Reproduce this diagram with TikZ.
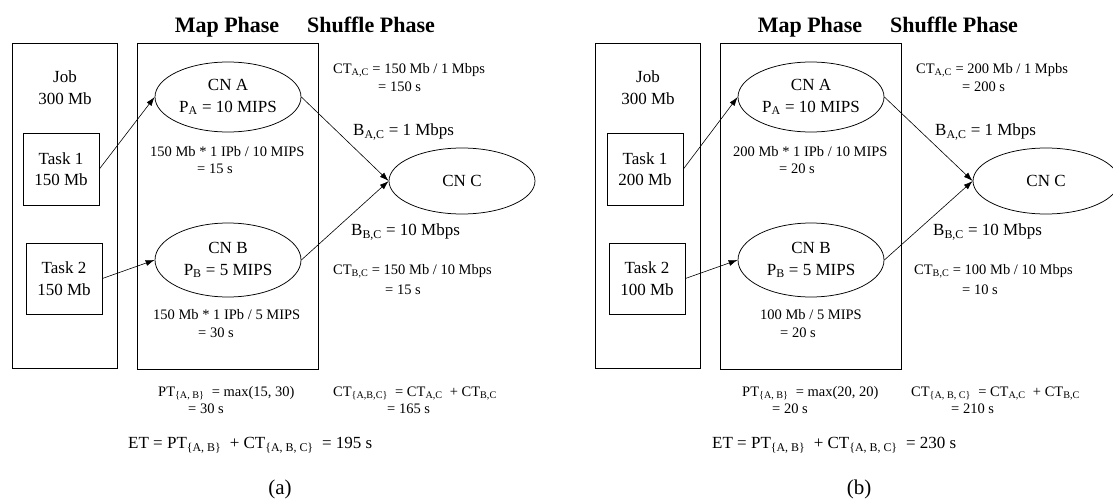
\documentclass[tikz,border=0pt]{standalone}
\usepackage{fontspec}
\setmainfont{Liberation Serif}
\usetikzlibrary{shapes.geometric,arrows.meta}
\newcommand\mainfs{\fontsize{17}{21.5}\selectfont}
\newcommand\smallfs{\fontsize{14.5}{17}\selectfont}
\newcommand\headfs{\fontsize{22}{26}\selectfont\bfseries}
\newcommand\capfs{\fontsize{21}{25}\selectfont}
\newcommand\sbs[1]{\textsubscript{#1}}
\begin{document}
\begin{tikzpicture}[x=1pt,y=-1pt,
  frame/.style={draw, line width=0.75pt, inner sep=0pt, anchor=north west},
  task/.style={draw, line width=0.75pt, minimum width=76pt, minimum height=72pt, inner sep=0pt, align=center, font=\mainfs},
  cn/.style={ellipse, draw, line width=0.75pt, minimum width=146pt, minimum height=70pt, inner sep=0pt, align=center, font=\mainfs},
  lbl/.style={anchor=base west, inner sep=0pt, font=\smallfs},
  blbl/.style={anchor=base west, inner sep=0pt, font=\mainfs},
  head/.style={anchor=base, inner sep=0pt, font=\headfs},
  capt/.style={anchor=base, inner sep=0pt, font=\capfs},
  arr/.style={line width=0.6pt, -{Latex[length=9pt,width=6pt]}}]
\useasboundingbox (0,0) rectangle (1113,500);

% ---------------- panel (a) ----------------
\node[frame, minimum width=105pt, minimum height=325pt] (joba) at (12,43) {};
\node[font=\mainfs, align=center, inner sep=0pt] (jobtxta) at (65,87.5) {Job\\300 Mb};
\node[frame, minimum width=181pt, minimum height=326pt] (mapa) at (137,43) {};
\node[task] (t1a) at (61,169) {Task 1\\150 Mb};
\node[task, minimum height=71pt] (t2a) at (64,278.5) {Task 2\\150 Mb};
\node[cn] (Aa) at (228,97) {CN A\\P\sbs{A} = 10 MIPS};
\node[cn, minimum height=74pt] (Ba) at (228,260) {CN B\\P\sbs{B} = 5 MIPS};
\node[cn, minimum height=66pt] (Ca) at (462,181) {CN C};
\draw[arr] (t1a.east) -- (Aa.west);
\draw[arr] (t2a.east) -- (Ba.west);
\draw[arr] (Aa.east) -- (Ca.west);
\draw[arr] (Ba.east) -- (Ca.west);
\node[head] (mpa) at (227,33) {Map Phase};
\node[head] (spa) at (371,33) {Shuffle Phase};
\node[lbl] (ca1) at (150,156.7) {150 Mb * 1 IPb / 10 MIPS};
\node[lbl] (ca2) at (197,173.7) {= 15 s};
\node[lbl] (cb1) at (153,319.7) {150 Mb * 1 IPb / 5 MIPS};
\node[lbl] (cb2) at (198,337.7) {= 30 s};
\node[lbl] (ctac1a) at (333,73.7) {CT\sbs{A,C} = 150 Mb / 1 Mbps};
\node[lbl] (ctac2a) at (378,91.7) {= 150 s};
\node[blbl] (baca) at (353,135.5) {B\sbs{A,C} = 1 Mbps};
\node[blbl] (bbca) at (351,235.5) {B\sbs{B,C} = 10 Mbps};
\node[lbl] (ctbc1a) at (333,274.7) {CT\sbs{B,C} = 150 Mb / 10 Mbps};
\node[lbl] (ctbc2a) at (385,294.7) {= 15 s};
\node[lbl] (pt1a) at (158,396.7) {PT\sbs{\{A, B\}}\ \ = max(15, 30)};
\node[lbl] (pt2a) at (188,413.7) {= 30 s};
\node[lbl] (ctabc1a) at (333,396.7) {CT\sbs{\{A,B,C\}}\ \ = CT\sbs{A,C}\ \ + CT\sbs{B,C}};
\node[lbl] (ctabc2a) at (387,413.7) {= 165 s};
\node[blbl] (eta) at (128,448.5) {ET = PT\sbs{\{A, B\}}\ \ + CT\sbs{\{A, B, C\}}\ \ = 195 s};
\node[capt] (capa) at (280,494) {(a)};

% ---------------- panel (b) ----------------
\begin{scope}[shift={(583,0)}]
\node[frame, minimum width=105pt, minimum height=325pt] (jobb) at (12,43) {};
\node[font=\mainfs, align=center, inner sep=0pt] (jobtxtb) at (65,87.5) {Job\\300 Mb};
\node[frame, minimum width=181pt, minimum height=326pt] (mapb) at (137,43) {};
\node[task] (t1b) at (62,169) {Task 1\\200 Mb};
\node[task, minimum height=71pt] (t2b) at (64,278.5) {Task 2\\100 Mb};
\node[cn] (Ab) at (228,97) {CN A\\P\sbs{A} = 10 MIPS};
\node[cn, minimum height=74pt] (Bb) at (228,260) {CN B\\P\sbs{B} = 5 MIPS};
\node[cn, minimum height=66pt] (Cb) at (463,181) {CN C};
\draw[arr] (t1b.east) -- (Ab.west);
\draw[arr] (t2b.east) -- (Bb.west);
\draw[arr] (Ab.east) -- (Cb.west);
\draw[arr] (Bb.east) -- (Cb.west);
\node[head] (mpb) at (227,33) {Map Phase};
\node[head] (spb) at (371,33) {Shuffle Phase};
\node[lbl] (cab1) at (150,156.7) {200 Mb * 1 IPb / 10 MIPS};
\node[lbl] (cab2) at (196,173.7) {= 20 s};
\node[lbl] (cbb1) at (177,319.7) {100 Mb / 5 MIPS};
\node[lbl] (cbb2) at (197,337.7) {= 20 s};
\node[lbl] (ctac1b) at (333,73.7) {CT\sbs{A,C} = 200 Mb / 1 Mpbs};
\node[lbl] (ctac2b) at (379,91.7) {= 200 s};
\node[blbl] (bacb) at (352,135.5) {B\sbs{A,C} = 1 Mbps};
\node[blbl] (bbcb) at (350,235.5) {B\sbs{B,C} = 10 Mbps};
\node[lbl] (ctbc1b) at (331,274.7) {CT\sbs{B,C} = 100 Mb / 10 Mbps};
\node[lbl] (ctbc2b) at (379,294.7) {= 10 s};
\node[lbl] (pt1b) at (159,396.7) {PT\sbs{\{A, B\}}\ \ = max(20, 20)};
\node[lbl] (pt2b) at (189,413.7) {= 20 s};
\node[lbl] (ctabc1b) at (328,396.7) {CT\sbs{\{A, B, C\}}\ \ = CT\sbs{A,C}\ \ + CT\sbs{B,C}};
\node[lbl] (ctabc2b) at (368,413.7) {= 210 s};
\node[blbl] (etb) at (129,448.5) {ET = PT\sbs{\{A, B\}}\ \ + CT\sbs{\{A, B, C\}}\ \ = 230 s};
\node[capt] (capb) at (276,494) {(b)};
\end{scope}
\end{tikzpicture}
\end{document}
